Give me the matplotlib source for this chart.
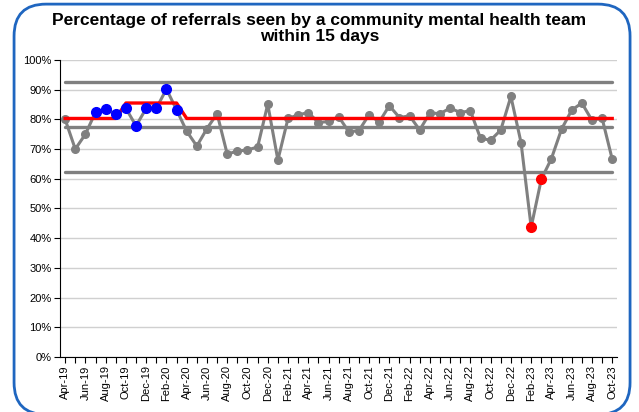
import matplotlib
matplotlib.use("Agg")
import matplotlib.pyplot as plt
from matplotlib.patches import FancyBboxPatch
import pandas as pd

plt.rcParams['font.family'] = ['Liberation Sans', 'DejaVu Sans']

# monthly data Apr-19 .. Oct-23
months = pd.date_range('2019-04-01', '2023-10-01', freq='MS')
month_labels = [d.strftime('%b-%y') for d in months]

pct_seen = [80.0, 70.0, 75.0, 82.4, 83.4, 81.8, 83.7, 77.8, 83.7,
            83.7, 90.2, 83.2, 76.0, 71.0, 76.9, 81.9, 68.3, 69.3, 69.7, 70.7, 85.1,
            66.3, 80.3, 81.5, 82.3, 78.9, 79.3, 80.9, 75.8, 76.2, 81.6, 79.1, 84.6,
            80.6, 81.2, 76.4, 82.2, 81.9, 83.8, 82.3, 82.9, 73.6, 73.0, 76.4, 87.7,
            72.2, 43.7, 59.8, 66.8, 76.7, 83.1, 85.5, 79.7, 80.4, 66.6]

# process mean (shifts up for Oct-19 .. Mar-20)
mean_line = [80.3] * 6 + [85.5] * 6 + [80.3] * 43

# control limits
upper_limit = 92.6
centre_line = 77.5
lower_limit = 62.3

# highlighted points (index of month)
blue_idx = [3, 4, 5, 6, 7, 8, 9, 10, 11]
red_idx = [46, 47]

grey = '#808080'
x = list(range(len(months)))

fig = plt.figure(figsize=(6.39, 4.12), dpi=100)
ax = fig.add_axes([0.094, 0.1335, 0.872, 0.721])

ax.set_ylim(0, 100)
ax.set_xlim(-0.5, len(months) - 0.5)
ax.set_yticks(range(0, 101, 10))
ax.set_yticklabels([f'{v}%' for v in range(0, 101, 10)], fontsize=8)
ax.yaxis.grid(True, color='#d0d0d0', linewidth=1)
ax.set_axisbelow(True)

ax.set_xticks(x)
ax.set_xticklabels([lab if i % 2 == 0 else '' for i, lab in enumerate(month_labels)],
                   rotation=90, fontsize=8)
ax.tick_params(axis='both', length=4, width=0.8, color='black', pad=2)

for s in ['top', 'right']:
    ax.spines[s].set_visible(False)
ax.spines['left'].set_linewidth(0.8)
ax.spines['bottom'].set_linewidth(0.8)

# control limit lines
for lim in [upper_limit, centre_line, lower_limit]:
    ax.plot([x[0], x[-1]], [lim, lim], color=grey, linewidth=2.4, solid_capstyle='round', zorder=2)

ax.plot(x, pct_seen, color=grey, linewidth=2.2, marker='o', markersize=5.5,
        markerfacecolor=grey, markeredgecolor=grey, zorder=3)
ax.plot(x, mean_line, color='#ff0000', linewidth=2.4, zorder=4)

ax.plot([x[i] for i in blue_idx], [pct_seen[i] for i in blue_idx], 'o',
        color='#0000ff', markersize=7, zorder=5)
ax.plot([x[i] for i in red_idx], [pct_seen[i] for i in red_idx], 'o',
        color='#ff0000', markersize=7, zorder=5)

fig.text(0.5, 0.968, 'Percentage of referrals seen by a community mental health team\nwithin 15 days',
         ha='center', va='top', fontsize=12.5, fontweight='bold', linespacing=1.05)

border = FancyBboxPatch((0.022, -0.006), 0.964, 0.996, boxstyle='round,pad=0,rounding_size=0.05',
                        transform=fig.transFigure, fill=False, edgecolor='#1f66c0',
                        linewidth=2, zorder=10, mutation_aspect=639 / 412)
fig.patches.append(border)

fig.savefig('out.png', dpi=100)
